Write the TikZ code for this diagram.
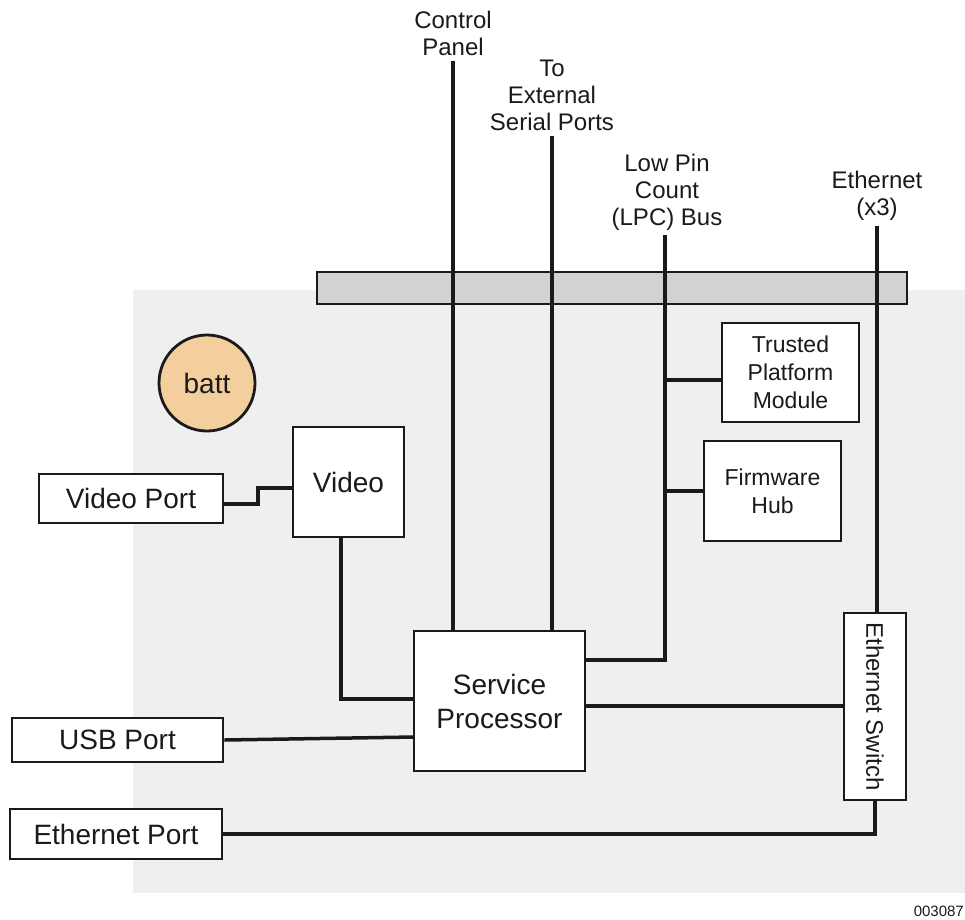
\documentclass[tikz,border=0pt]{standalone}
\usepackage{fontspec}
\setmainfont{Liberation Sans}
\definecolor{boardgray}{HTML}{EFEFEF}
\definecolor{bargray}{HTML}{D2D2D2}
\definecolor{battfill}{HTML}{F3CF9E}
\definecolor{ink}{HTML}{1A1A1A}
\begin{document}
\begin{tikzpicture}[x=1pt,y=-1pt,
  box/.style={draw=ink, line width=2.8pt, fill=white, inner sep=0pt, align=center, text=ink},
  bigtext/.style={font=\fontsize{28}{34}\selectfont},
  midtext/.style={font=\fontsize{23}{28}\selectfont},
  toplabel/.style={align=center, inner sep=5pt, text=ink, font=\fontsize{24}{27}\selectfont},
  wire/.style={draw=ink, line width=3.5pt}]
\useasboundingbox (0,0) rectangle (965,919);
% board area and connector strip
\fill[boardgray] (133,290) rectangle (965,893);
\draw[draw=ink, line width=2.8pt, fill=bargray] (317,272) rectangle (907,304);

% external labels
\node[toplabel] (cp) at (453,33) {Control\\Panel};
\node[toplabel] (ser) at (552,95) {To\\External\\Serial Ports};
\node[toplabel] (lpc) at (667,192) {Low Pin\\Count\\(LPC) Bus};
\node[toplabel] (eth) at (877,196) {Ethernet\\(x3)};

% components
\node[draw=ink, line width=2.8pt, circle, fill=battfill, minimum size=96pt, inner sep=0pt, bigtext, text=ink] (batt) at (207,383) {batt};
\node[box, bigtext, minimum width=184pt, minimum height=49pt] (vport) at (131,498.5) {Video Port};
\node[box, bigtext, minimum width=111pt, minimum height=110pt] (video) at (348.5,482) {Video};
\node[box, bigtext, minimum width=211pt, minimum height=44pt] (usb) at (117.5,740) {USB Port};
\node[box, bigtext, minimum width=212pt, minimum height=50pt] (eport) at (116,834) {Ethernet Port};
\node[box, bigtext, minimum width=171pt, minimum height=140pt] (sp) at (499.5,701) {Service\\Processor};
\node[box, midtext, minimum width=137pt, minimum height=99pt] (tpm) at (790.5,372.5) {Trusted\\Platform\\Module};
\node[box, midtext, minimum width=137pt, minimum height=100pt] (fwh) at (772.5,491) {Firmware\\Hub};
\node[box, minimum width=62pt, minimum height=187pt] (esw) at (875,706.5) {};
\node[rotate=-90, text=ink, font=\fontsize{24}{28}\selectfont] (eswlabel) at (esw.center) {Ethernet Switch};

% junction points
\coordinate (lpcj) at (665,660);
\coordinate (tpmtap) at (665,380);
\coordinate (spsw) at (585,706);
\coordinate (usbsp) at (414,737);
\coordinate (vidbend) at (341,699);
\coordinate (vpstep) at (258,504);
\coordinate (vpin) at (293,488);

% connectors
\draw[wire] (cp.south) -- (cp.south |- sp.north);
\draw[wire] (ser.south) -- (ser.south |- sp.north);
\draw[wire] (lpcj |- lpc.south) -- (lpcj) -- (lpcj -| sp.east);
\draw[wire] (tpmtap) -- (tpmtap -| tpm.west);
\draw[wire] (lpcj |- fwh.west) -- (fwh.west);
\draw[wire] (eth.south) -- (eth.south |- esw.north);
\draw[wire] (spsw) -- (spsw -| esw.west);
\draw[wire] (eport.east) -- (eport.east -| esw.south) -- (esw.south);
\draw[wire] (usb.east) -- (usbsp);
\draw[wire] (vidbend |- video.south) -- (vidbend) -- (vidbend -| sp.west);
\draw[wire] (vpstep -| vport.east) -- (vpstep) -- (vpstep |- vpin) -- (vpin);

% drawing number
\node[anchor=east, text=ink, font=\fontsize{15}{18}\selectfont, inner sep=1pt] (num) at (965,911) {003087};
\end{tikzpicture}
\end{document}
